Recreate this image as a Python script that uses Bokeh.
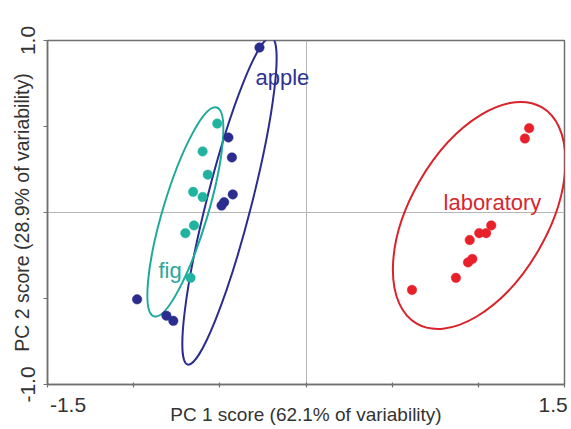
import math
from bokeh.plotting import figure
from bokeh.models import Range1d, FixedTicker, Label, LinearAxis
from bokeh.embed import file_html
from bokeh.resources import INLINE

# ---- data (PC scores) ----
apple_pc1 = [-0.27, -0.45, -0.43, -0.425, -0.475, -0.49, -0.98, -0.81, -0.77]
apple_pc2 = [0.959, 0.436, 0.32, 0.105, 0.06, 0.04, -0.505, -0.60, -0.63]

fig_pc1 = [-0.515, -0.60, -0.57, -0.655, -0.60, -0.65, -0.70, -0.67]
fig_pc2 = [0.517, 0.355, 0.22, 0.12, 0.09, -0.075, -0.12, -0.38]

lab_pc1 = [1.295, 1.27, 1.075, 1.045, 1.005, 0.95, 0.965, 0.94, 0.87, 0.615]
lab_pc2 = [0.49, 0.43, -0.075, -0.12, -0.12, -0.16, -0.27, -0.29, -0.38, -0.45]

# confidence ellipses: centre x, centre y, major, minor, angle (deg)
groups = ["apple", "fig", "laboratory"]
ell_x = [-0.444, -0.70, 1.005]
ell_y = [0.067, 0.003, -0.017]
ell_major = [1.96, 1.265, 1.45]
ell_minor = [0.26, 0.26, 0.80]
ell_angle = [75.65, 73.3, 60.0]

label_x = [-0.293, -0.856, 0.798]
label_y = [0.785, -0.337, 0.06]

x_ticks = [-1.5, -1.0, -0.5, 0.0, 0.5, 1.0, 1.5]
y_ticks = [-1.0, -0.5, 0.0, 0.5, 1.0]
x_tick_labels = ["-1.5", "1.5"]
y_tick_labels = ["-1.0", "1.0"]
x_title = "PC 1 score (62.1% of variability)"
y_title = "PC 2 score (28.9% of variability)"

point_colors = ["#2b2d8e", "#22b3a0", "#e8202a"]
line_colors = ["#2b2d8e", "#1fa99a", "#d9232b"]
text_colors = ["#2e3192", "#2aa79b", "#d8262e"]

FONT = "Liberation Sans"
AXIS_GRAY = "#707070"
TEXT_GRAY = "#333333"

p = figure(width=571, height=429, output_backend="svg", toolbar_location=None,
           x_range=Range1d(-1.5, 1.5), y_range=Range1d(-1.0, 1.0),
           min_border_left=47, min_border_right=7, min_border_top=40,
           min_border_bottom=45)
p.background_fill_color = "white"
p.border_fill_color = "white"
p.outline_line_color = AXIS_GRAY
p.outline_line_width = 1.5

# grid only through the origin
p.xgrid.ticker = FixedTicker(ticks=[0.0])
p.ygrid.ticker = FixedTicker(ticks=[0.0])
for g in (p.xgrid, p.ygrid):
    g.grid_line_color = "#b5b5b5"
    g.grid_line_width = 1

# inner axes: line + tick marks only (all ticks drawn as minor ticks, no labels)
p.xaxis.ticker = FixedTicker(ticks=[], minor_ticks=x_ticks)
p.yaxis.ticker = FixedTicker(ticks=[], minor_ticks=y_ticks)
for ax in (p.xaxis, p.yaxis):
    ax.axis_line_color = AXIS_GRAY
    ax.axis_line_width = 1.5
    ax.major_tick_line_color = None
    ax.major_tick_in = 0
    ax.major_tick_out = 0
    ax.minor_tick_line_color = AXIS_GRAY
    ax.minor_tick_line_width = 1.2
    ax.major_label_standoff = 0
p.xaxis.minor_tick_in = 2
p.xaxis.minor_tick_out = 3
p.yaxis.minor_tick_in = 0
p.yaxis.minor_tick_out = 4

# outer axes: end tick labels and titles
x_lab_pos = [-1.381, 1.434]   # label centres as drawn in the original
xlab_axis = LinearAxis(ticker=FixedTicker(ticks=x_lab_pos),
                       major_label_overrides={x_lab_pos[0]: x_tick_labels[0],
                                              x_lab_pos[1]: x_tick_labels[1]},
                       axis_label=x_title)
ylab_axis = LinearAxis(ticker=FixedTicker(ticks=[y_ticks[0], y_ticks[-1]]),
                       major_label_overrides={y_ticks[0]: y_tick_labels[0],
                                              y_ticks[-1]: y_tick_labels[1]},
                       major_label_orientation="vertical",
                       axis_label=y_title)
for ax in (xlab_axis, ylab_axis):
    ax.axis_line_color = None
    ax.major_tick_line_color = None
    ax.minor_tick_line_color = None
    ax.major_tick_in = 0
    ax.major_tick_out = 0
    ax.minor_tick_in = 0
    ax.minor_tick_out = 0
    ax.major_label_text_font = FONT
    ax.major_label_text_font_size = "21px"
    ax.major_label_text_color = TEXT_GRAY
    ax.axis_label_text_font = FONT
    ax.axis_label_text_font_style = "normal"
    ax.axis_label_text_color = TEXT_GRAY
xlab_axis.axis_label_text_font_size = "19px"
ylab_axis.axis_label_text_font_size = "19.5px"
xlab_axis.major_label_standoff = 10
xlab_axis.axis_label_standoff = -11
ylab_axis.major_label_standoff = 9
ylab_axis.axis_label_standoff = -15
p.add_layout(xlab_axis, "below")
p.add_layout(ylab_axis, "left")

# ellipses
for i in range(3):
    p.ellipse(x=[ell_x[i]], y=[ell_y[i]], width=[ell_major[i]], height=[ell_minor[i]],
              angle=[math.radians(ell_angle[i])], fill_color=None,
              line_color=line_colors[i], line_width=2)

# points
for xs, ys, c in ((apple_pc1, apple_pc2, point_colors[0]),
                  (fig_pc1, fig_pc2, point_colors[1]),
                  (lab_pc1, lab_pc2, point_colors[2])):
    p.scatter(x=xs, y=ys, size=9.5, fill_color=c, line_color=c, line_width=0.5)

# group labels
for i in range(3):
    p.add_layout(Label(x=label_x[i], y=label_y[i], text=groups[i],
                       text_font=FONT, text_font_size="22px",
                       text_color=text_colors[i], text_baseline="alphabetic",
                       text_align="left"))

open("out.html", "w").write(file_html(p, INLINE))
